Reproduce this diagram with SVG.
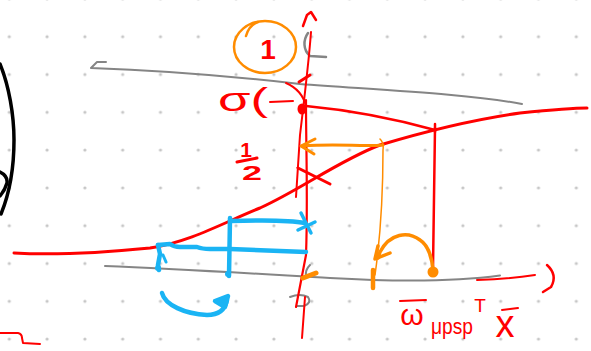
<svg xmlns="http://www.w3.org/2000/svg" width="591" height="351" viewBox="0 0 591 351">
  <defs>
    <pattern id="dots" patternUnits="userSpaceOnUse" x="-9.6" y="17.8" width="37.8" height="37.8">
      <circle cx="18.9" cy="18.9" r="1.6" fill="#c6c6c6"/>
    </pattern>
    <style>
      .s { fill: none; stroke-linecap: round; stroke-linejoin: round; }
      .r { stroke: #ff0000; }
      .o { stroke: #ff8c00; }
      .b { stroke: #1ab4f4; }
      .g { stroke: #858585; }
      .k { stroke: #000000; }
      .t { font-family: "Liberation Sans", "DejaVu Sans", sans-serif; fill: #ff0000; }
    </style>
  </defs>

  <!-- paper with dot grid -->
  <rect width="591" height="351" fill="#ffffff"/>
  <rect width="591" height="351" fill="url(#dots)"/>

  <!-- black shape at the left edge -->
  <g id="left-shape" class="s k" stroke-width="3.5">
    <path d="M0,64 C9,86 14,115 14,140 C14,166 10,192 1,214"/>
    <path d="M0,172 Q8,176 7,183 Q5,190 0,196"/>
  </g>

  <!-- asymptotes y=1 and y=0 -->
  <g id="asymptotes" class="s g" stroke-width="2">
    <path d="M106,62 L97,62 L91,68 C150,70 230,76 300,84 C380,90 470,94 522,104"/>
    <path d="M105,266 C180,269 260,274 330,278 C400,282 460,281 500,275.5"/>
    <path d="M308,33 C303,40 303,50 310,56 L326,57" stroke-width="2.5"/>
    <path d="M310,265 Q305,270 306,276"/>
    <path d="M290,297 Q300,293 308,297 Q312,303 304,306 L297,306"/>
  </g>

  <!-- vertical axis and logistic curve -->
  <g id="axis" class="s r">
    <path d="M303,26 L307,15 L311,12 L316,20" stroke-width="2.5"/>
    <path d="M311,32 C309,60 303,110 300,135 L296,197" stroke-width="2"/>
    <path d="M306,100 C306,150 308,200 306,255 L296,307" stroke-width="2.2"/>
    <path d="M305,297 L302,338" stroke-width="2"/>
    <path d="M299,82 L310,75" stroke-width="3"/>
    <path d="M286,83 Q302,90 306,106" stroke-width="2"/>
    <path d="M270,102 L293,101" stroke-width="2"/>
    <path d="M306,106 Q370,112 435,130" stroke-width="2.5"/>
    <path d="M298,168 L330,184" stroke-width="3"/>
    <path d="M14,253 C50,255 100,253 150,248 C190,242 225,222 260,208 C300,190 340,160 380,145 C420,133 470,120 520,113 C550,110 570,108 587,108" stroke-width="3"/>
    <path d="M435,124 L435,132" stroke-width="2.5"/>
    <path d="M435,128 L433,268" stroke-width="2.5"/>
    <path d="M477,280 Q510,279 535,275" stroke-width="2"/>
    <path d="M547,265 Q558,275 551,287 L543,292" stroke-width="2.5"/>
    <path d="M0,333 L18,333 Q22,334 22,338 L23,343 L40,344" stroke-width="2"/>
    <ellipse cx="302" cy="109" rx="4.5" ry="5.5" fill="#ff0000" stroke="none"/>
  </g>

  <!-- labels -->
  <g id="label-one">
    <ellipse class="s o" cx="265" cy="47" rx="31" ry="26" stroke-width="2.5"/>
    <path class="s o" d="M246,36 Q249,25 258,22" stroke-width="2.5"/>
    <text class="t" x="268" y="59" font-size="28" font-weight="bold" text-anchor="middle">1</text>
  </g>
  <g id="label-sigma">
    <text class="t" x="218" y="111" font-size="34" textLength="50" lengthAdjust="spacingAndGlyphs">σ(</text>
  </g>
  <g id="label-half">
    <text class="t" x="246" y="157" font-size="21" font-weight="bold" text-anchor="middle">1</text>
    <path class="s r" d="M237,162 L257,158" stroke-width="3"/>
    <text class="t" x="252" y="180" font-size="21" font-weight="bold" text-anchor="middle" textLength="20" lengthAdjust="spacingAndGlyphs">2</text>
  </g>
  <g id="label-input">
    <path class="s r" d="M400,301 L426,300" stroke-width="2"/>
    <text class="t" x="412" y="325" font-size="30" text-anchor="middle">ω</text>
    <text class="t" x="431" y="334" font-size="22" textLength="42" lengthAdjust="spacingAndGlyphs">μpsp</text>
    <text class="t" x="480" y="312" font-size="19" text-anchor="middle">T</text>
    <path class="s r" d="M502,310 L518,308" stroke-width="2"/>
    <text class="t" x="505" y="337" font-size="38" text-anchor="middle">x</text>
  </g>

  <!-- connectors -->
  <g id="connectors">
    <!-- orange: read value back onto the axis -->
    <g class="s o">
      <path d="M383,145 C360,147 340,143 302,146" stroke-width="3"/>
      <path d="M315,139 L301,146 L314,154" stroke-width="3"/>
      <path d="M380,139 Q384,143 383,150 C383,190 380,240 375,275" stroke-width="1.5"/>
      <path d="M378,246 L375,259 L390,253" stroke-width="3.5"/>
      <path d="M373,270 L373,288" stroke-width="4.5"/>
      <path d="M433,270 C432,258 428,245 420,240 C408,231 390,233 380,252 L378,258" stroke-width="3.5"/>
      <path d="M303,278 L316,273" stroke-width="5"/>
      <circle cx="433" cy="272" r="5.5" fill="#ff8c00" stroke="none"/>
    </g>
    <!-- blue: lower reading -->
    <g class="s b" stroke-width="4.5">
      <path d="M230,221 C260,220 290,220 305,223"/>
      <path d="M301,213 L311,233 M298,230 L315,222" stroke-width="3.5"/>
      <path d="M230,218 L229,276"/>
      <path d="M158,245 L170,244 Q174,247 180,247 L197,247 Q202,249 210,249 L230,249 L306,252"/>
      <path d="M158,245 L160,254 L158,265 L159,270"/>
      <path d="M163,255 L166,262" stroke-width="3"/>
      <path d="M162,293 C165,305 185,314 207,315 C218,315 225,310 227,300"/>
      <path d="M215,301 L228,296 L225,307 Z" fill="#1ab4f4"/>
      <circle cx="228" cy="274" r="3" fill="#1ab4f4" stroke="none"/>
      <circle cx="158" cy="268" r="3" fill="#1ab4f4" stroke="none"/>
    </g>
  </g>
</svg>
